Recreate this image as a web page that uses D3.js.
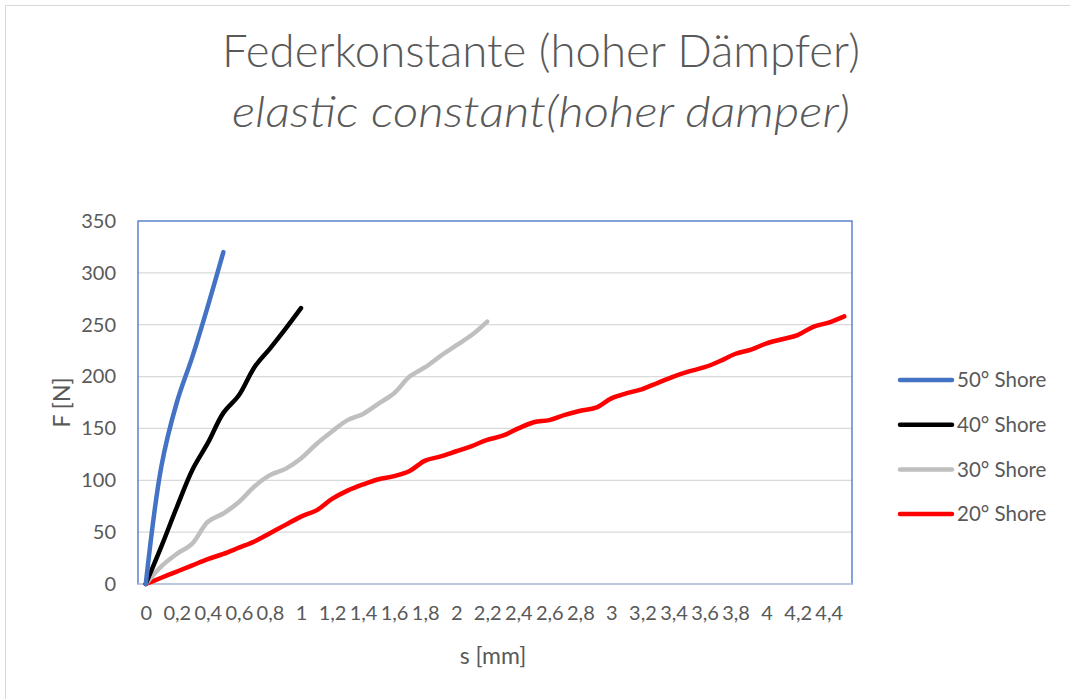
<!DOCTYPE html>
<html>
<head>
  <meta charset="utf-8">
  <title>Federkonstante</title>
  <script src="https://d3js.org/d3.v7.min.js"></script>
  <style>
    body { margin: 0; background: #fff; }
    svg text { font-family: Lato, 'Open Sans', sans-serif; fill: #595959; }
    .grid line { stroke: #d9d9d9; stroke-width: 1.3px; }
    .line { fill: none; stroke-width: 4.5px; stroke-linecap: round; stroke-linejoin: round; }
  </style>
</head>
<body>
  <svg id="chart" width="1070" height="699"></svg>
  <script>
    // s [mm] categories, 0 .. 4.5 step 0.1
    const categories = [0, 0.1, 0.2, 0.3, 0.4, 0.5, 0.6, 0.7, 0.8, 0.9, 1, 1.1, 1.2, 1.3, 1.4, 1.5,
      1.6, 1.7, 1.8, 1.9, 2, 2.1, 2.2, 2.3, 2.4, 2.5, 2.6, 2.7, 2.8, 2.9, 3, 3.1, 3.2, 3.3, 3.4, 3.5,
      3.6, 3.7, 3.8, 3.9, 4, 4.1, 4.2, 4.3, 4.4, 4.5];
    // every second category gets a label
    const tickLabels = [0, 0.2, 0.4, 0.6, 0.8, 1, 1.2, 1.4, 1.6, 1.8, 2, 2.2, 2.4, 2.6, 2.8, 3,
      3.2, 3.4, 3.6, 3.8, 4, 4.2, 4.4];
    const yTicks = [0, 50, 100, 150, 200, 250, 300, 350];

    // F [N]
    const shore50 = [0, 113, 175, 219, 268, 320];
    const shore40 = [0, 36, 74, 110, 136, 165, 182, 209, 227, 246, 266];
    const shore30 = [0, 17, 29, 39, 60, 68, 79, 94, 105, 111, 121, 135, 147, 158, 164, 174, 184,
      200, 209, 220, 230, 240, 253];
    const shore20 = [0, 6, 12, 18, 24, 29, 35, 41, 49, 57, 65, 71, 82, 90, 96, 101, 104, 109, 119,
      123, 128, 133, 139, 143, 150, 156, 158, 163, 167, 170, 179, 184, 188, 194, 200, 205, 209,
      215, 222, 226, 232, 236, 240, 248, 252, 258];

    const seriesNames = ["50° Shore", "40° Shore", "30° Shore", "20° Shore"];
    const seriesColors = ["#4472c4", "#000000", "#bfbfbf", "#ff0000"];
    const seriesValues = [shore50, shore40, shore30, shore20];

    const plot = { left: 138, right: 852, top: 221, bottom: 584 };
    const svg = d3.select("#chart");
    const fmt = v => String(v).replace(".", ",");

    // outer chart frame (only top and left visible)
    svg.append("path").attr("d", "M5.5,699V5.5H1070")
      .attr("fill", "none").attr("stroke", "#d9d9d9");

    const x = d3.scalePoint().domain(categories).range([plot.left, plot.right]).padding(0.5);
    const y = d3.scaleLinear().domain([0, 350]).range([plot.bottom, plot.top]);

    // horizontal grid
    svg.append("g").attr("class", "grid")
      .selectAll("line").data(yTicks.slice(1, -1)).join("line")
      .attr("x1", plot.left).attr("x2", plot.right)
      .attr("y1", d => y(d)).attr("y2", d => y(d));

    // plot area border
    svg.append("rect")
      .attr("x", plot.left).attr("y", plot.top)
      .attr("width", plot.right - plot.left).attr("height", plot.bottom - plot.top)
      .attr("fill", "none").attr("stroke", "#4472c4").attr("stroke-width", 1.3);
    svg.append("line")
      .attr("x1", plot.left).attr("x2", plot.right)
      .attr("y1", plot.bottom).attr("y2", plot.bottom)
      .attr("stroke", "#cdd3de").attr("stroke-width", 1.5);

    // y axis labels
    const yAxis = d3.axisLeft(y).tickValues(yTicks).tickSize(0).tickPadding(22);
    const gy = svg.append("g").attr("transform", `translate(${plot.left},0)`).call(yAxis);
    gy.select(".domain").remove();
    gy.selectAll("text").style("font-size", "20px").style("font-family", "Lato, sans-serif")
      .attr("fill", "#595959");

    // x axis labels
    const xAxis = d3.axisBottom(x).tickValues(tickLabels).tickFormat(fmt).tickSize(0).tickPadding(22);
    const gx = svg.append("g").attr("transform", `translate(0,${plot.bottom})`).call(xAxis);
    gx.select(".domain").remove();
    gx.selectAll("text").style("font-size", "20px").style("font-family", "Lato, sans-serif")
      .attr("fill", "#595959");

    // lines
    const line = d3.line()
      .x((d, i) => x(categories[i]))
      .y(d => y(d))
      .curve(d3.curveCatmullRom.alpha(0.5));

    seriesValues.slice().reverse().forEach((vals, k) => {
      const idx = seriesValues.length - 1 - k;
      svg.append("path").datum(vals)
        .attr("class", "line")
        .attr("stroke", seriesColors[idx])
        .attr("d", line);
    });

    // axis titles
    svg.append("text")
      .attr("transform", `translate(70,${(plot.top + plot.bottom) / 2}) rotate(-90)`)
      .attr("text-anchor", "middle")
      .style("font-size", "23px")
      .text("F [N]");
    svg.append("text")
      .attr("x", 493).attr("y", 664)
      .attr("text-anchor", "middle")
      .style("font-size", "23px")
      .text("s [mm]");

    // title
    const t1 = svg.append("text")
      .attr("x", 541).attr("y", 67)
      .attr("text-anchor", "middle")
      .style("font-size", "46px").style("font-weight", 300)
      .text("Federkonstante (hoher Dämpfer)");
    const t2 = svg.append("text")
      .attr("x", 541).attr("y", 127)
      .attr("text-anchor", "middle")
      .style("font-size", "44px").style("font-style", "italic").style("font-weight", 300)
      .text("elastic constant(hoher damper)");
    [[t1, 638], [t2, 618]].forEach(([t, w]) => {
      t.attr("textLength", w).attr("lengthAdjust", "spacingAndGlyphs");
    });

    // legend
    const legend = svg.append("g");
    seriesNames.forEach((name, i) => {
      const ly = 380 + i * 44.7;
      legend.append("line")
        .attr("x1", 900).attr("x2", 952).attr("y1", ly).attr("y2", ly)
        .attr("stroke", seriesColors[i]).attr("stroke-width", 4.5)
        .attr("stroke-linecap", "round");
      legend.append("text")
        .attr("x", 957).attr("y", ly).attr("dy", "0.35em")
        .style("font-size", "20.5px")
        .text(name);
    });
  </script>
</body>
</html>
